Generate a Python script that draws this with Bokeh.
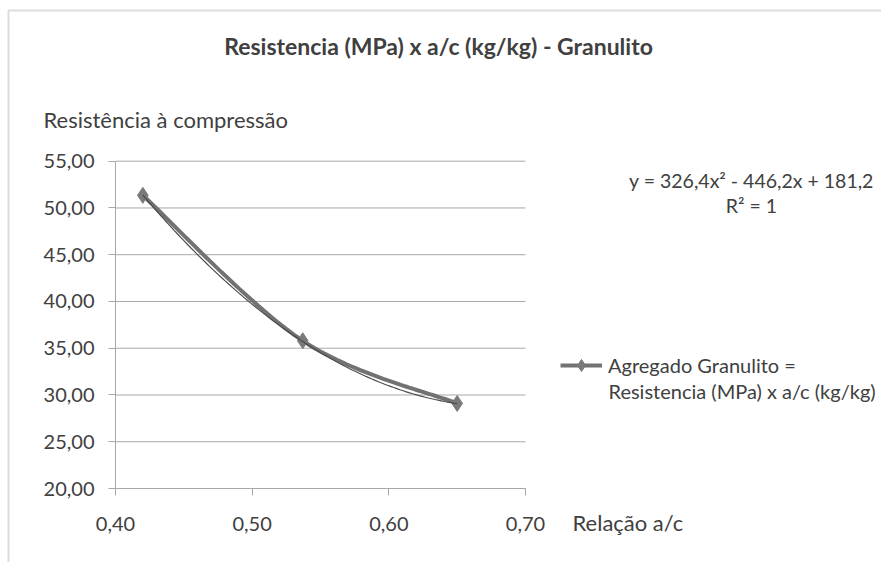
import numpy as np
from bokeh.plotting import figure
from bokeh.models import (Label, Legend, LegendItem, FixedTicker, CustomJSTickFormatter,
                          Range1d, BoxAnnotation, LinearAxis)
from bokeh.embed import file_html
from bokeh.resources import INLINE

# ---- data ----
x_ac = [0.42, 0.537, 0.65]
y_res = [51.35, 35.8, 29.1]
trend_coef = [326.4, -446.2, 181.2]   # y = a x^2 + b x + c
x_ticks = [0.40, 0.50, 0.60, 0.70]
y_ticks = [20, 25, 30, 35, 40, 45, 50, 55]

title_text = "Resistencia (MPa) x a/c (kg/kg) - Granulito"
ylab_text = "Resistência à compressão"
xlab_text = "Relação a/c"
legend_l1 = "Agregado Granulito ="
legend_l2 = "Resistencia (MPa) x a/c (kg/kg)"
eq_text = "y = 326,4x² - 446,2x + 181,2"
r2_text = "R² = 1"

FONT = "Lato"
TXT = "#404040"
GRID = "#a8a8a8"

W, H = 881, 562
# pixel placement of the plotting area inside the canvas
PX_L, PX_R, PY_T, PY_B = 115.0, 525.0, 160.7, 488.0
X0, X1 = x_ticks[0], x_ticks[-1]
Y0, Y1 = y_ticks[0], y_ticks[-1]
kx = (X1 - X0) / (PX_R - PX_L)
ky = (Y1 - Y0) / (PY_B - PY_T)

def dx(px):
    return X0 + (px - PX_L) * kx

def dy(py):
    return Y1 - (py - PY_T) * ky

p = figure(width=W, height=H, output_backend="svg", toolbar_location=None,
           x_range=Range1d(dx(0), dx(W)), y_range=Range1d(dy(H), dy(0)),
           x_axis_location=None, y_axis_location=None,
           min_border=0, min_border_left=0, min_border_right=0,
           min_border_top=0, min_border_bottom=0)
p.outline_line_color = None
p.background_fill_color = "white"
p.border_fill_color = "white"
p.xgrid.visible = False
p.ygrid.visible = False

# chart border (top & left visible)
p.add_layout(BoxAnnotation(left=dx(8), right=dx(W + 50), top=dy(10), bottom=dy(H + 50),
                           fill_color=None, line_color="#8a8a8a", line_width=2))

# horizontal gridlines at the y ticks, over the plotting area
p.segment(x0=[X0] * len(y_ticks), x1=[X1] * len(y_ticks), y0=y_ticks, y1=y_ticks,
          line_color=GRID, line_width=1)

# axes placed inside the frame
fmt = CustomJSTickFormatter(code="return tick.toFixed(2).replace('.', ',');")
xax = LinearAxis(fixed_location=Y0, bounds=(X0, X1), ticker=FixedTicker(ticks=x_ticks),
                 formatter=fmt)
yax = LinearAxis(fixed_location=X0, bounds=(Y0, Y1), ticker=FixedTicker(ticks=y_ticks),
                 formatter=fmt)
for ax in (xax, yax):
    ax.axis_line_color = GRID
    ax.major_tick_line_color = GRID
    ax.minor_tick_line_color = None
    ax.major_tick_in = 0
    ax.major_tick_out = 7
    ax.major_label_text_font = FONT
    ax.major_label_text_font_size = "20px"
    ax.major_label_text_color = TXT
xax.major_label_standoff = 21
yax.major_label_standoff = 14
p.add_layout(xax, "below")
p.add_layout(yax, "left")

# trendline from the displayed equation
xt = np.linspace(min(x_ac), max(x_ac), 100)
yt = trend_coef[0] * xt**2 + trend_coef[1] * xt + trend_coef[2]

# smoothed series line (Catmull-Rom through the data points)
def smooth(xs, ys, n=40):
    pts = np.column_stack([xs, ys]).astype(float)
    ext = np.vstack([pts[0], pts, pts[-1]])
    outx, outy = [], []
    for i in range(1, len(ext) - 2):
        p0, p1, p2, p3 = ext[i - 1], ext[i], ext[i + 1], ext[i + 2]
        for t in np.linspace(0, 1, n):
            t2, t3 = t * t, t * t * t
            pt = 0.5 * ((2 * p1) + (-p0 + p2) * t + (2 * p0 - 5 * p1 + 4 * p2 - p3) * t2
                        + (-p0 + 3 * p1 - 3 * p2 + p3) * t3)
            outx.append(pt[0]); outy.append(pt[1])
    return outx, outy

sx, sy = smooth(x_ac, y_res)
r_line = p.line(sx, sy, line_color="#727272", line_width=4)
r_pts = p.scatter(x_ac, y_res, marker="diamond", size=16, fill_color="#7a7a7a",
                  line_color="#7a7a7a")
p.line(xt, yt, line_color="#4a4a4a", line_width=1.2)

# legend
GH = 30
leg = Legend(items=[LegendItem(label=legend_l1, renderers=[r_line, r_pts])],
             location=(560, H - 365 - GH / 2), border_line_color=None,
             background_fill_alpha=0, padding=0, margin=0, glyph_width=42,
             glyph_height=GH, label_standoff=6, label_text_font=FONT,
             label_text_font_size="20px", label_text_color=TXT, label_height=GH)
p.add_layout(leg, "center")

def lab(text, x, y, size, align="left", bold=False):
    p.add_layout(Label(x=x, y=y, text=text, text_font=FONT, text_font_size=size,
                       text_color=TXT, text_align=align, text_baseline="alphabetic",
                       text_font_style="bold" if bold else "normal"))

lab(title_text, dx(438), dy(45), "23px", align="center", bold=True)
lab(ylab_text, dx(43), dy(119), "22px")
lab(xlab_text, dx(572), dy(522), "22px")
lab(eq_text, dx(751), dy(180), "19.5px", align="center")
lab(r2_text, dx(751), dy(205), "19.5px", align="center")
lab(legend_l2, dx(608), dy(390), "20px")

open("out.html", "w").write(file_html(p, INLINE))
